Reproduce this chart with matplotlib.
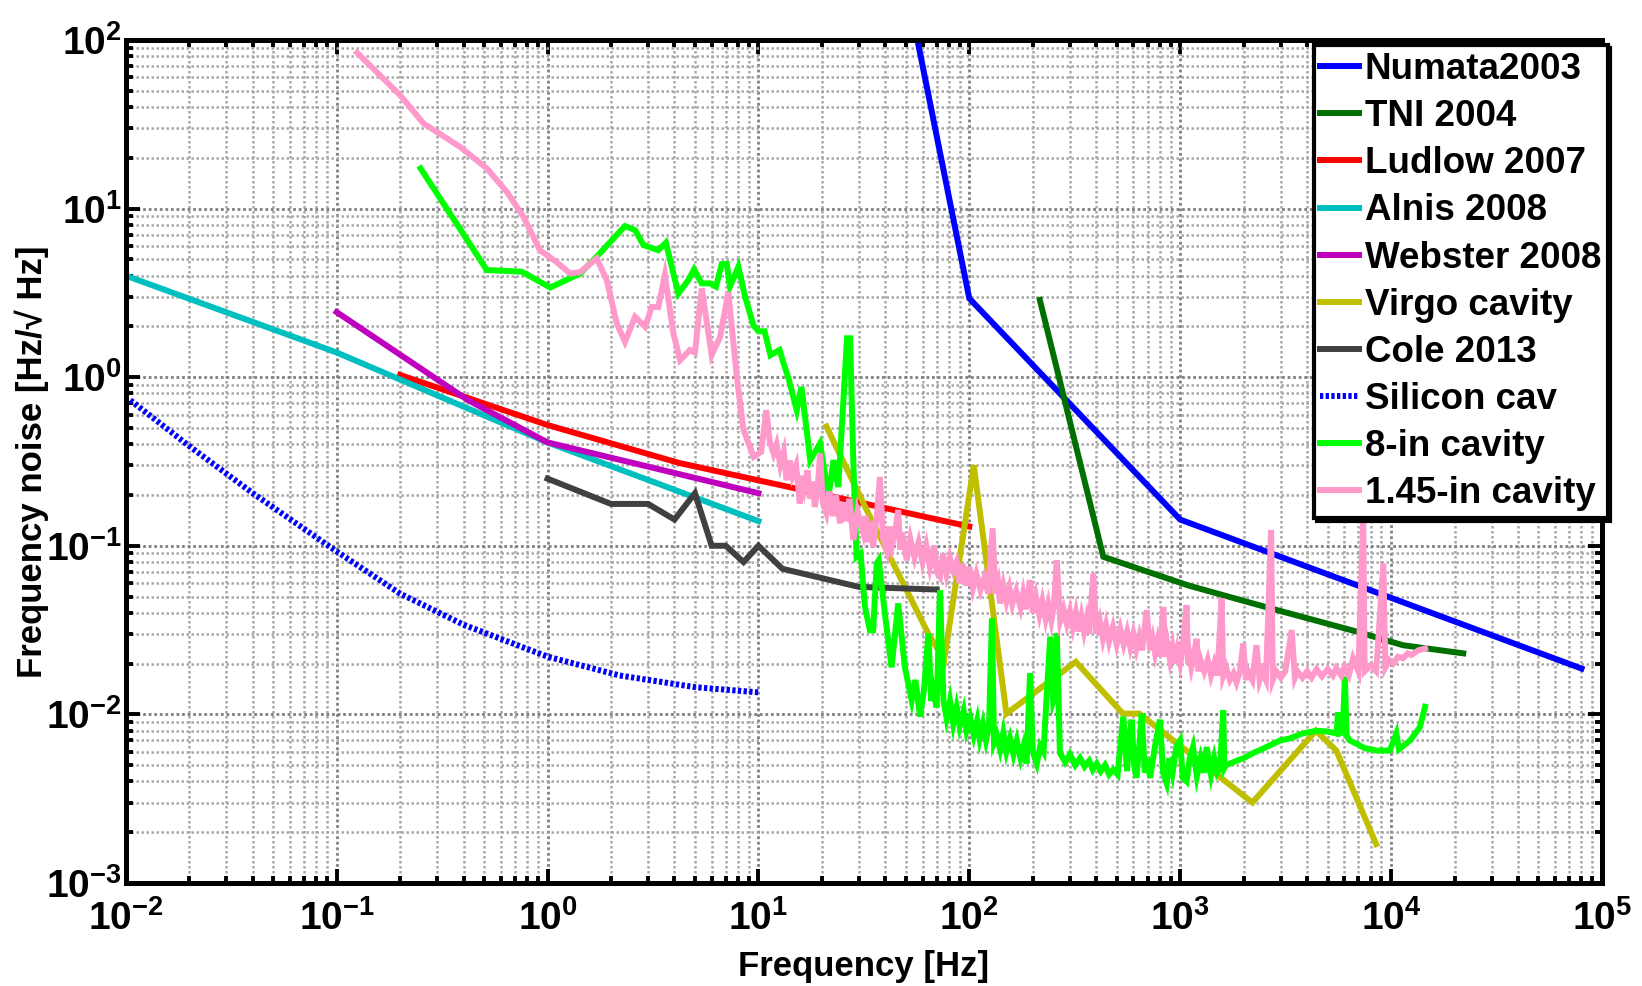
import matplotlib
matplotlib.use("Agg")
import matplotlib.pyplot as plt
from matplotlib.ticker import LogLocator, NullFormatter

plt.rcParams['font.family'] = ['Liberation Sans', 'DejaVu Sans']
plt.rcParams['font.weight'] = 'bold'

# ---- data (Hz, Hz/sqrt(Hz)) ----
numata_f = [50, 100, 1000, 80000]
numata_n = [220, 2.93, 0.143, 0.0187]

tni_f = [216, 432, 1100, 2600, 6850, 11400, 22000]
tni_n = [2.87, 0.086, 0.058, 0.043, 0.031, 0.0257, 0.023]

ludlow_f = [0.2, 1, 4.2, 100]
ludlow_n = [1.03, 0.52, 0.31, 0.13]

alnis_f = [0.01, 0.1, 1, 10]
alnis_n = [4.0, 1.4, 0.41, 0.14]

webster_f = [0.1, 0.42, 1, 10]
webster_n = [2.43, 0.73, 0.41, 0.205]

virgo_f = [21, 35, 64, 76, 105, 150, 320, 535, 640, 2200, 4400, 5500, 8500]
virgo_n = [0.51, 0.136, 0.030, 0.021, 0.30, 0.0101, 0.0205, 0.0101, 0.0101,
           0.0030, 0.0080, 0.0061, 0.0017]

cole_f = [1, 2, 3, 4, 5, 6, 7, 8.5, 10, 13, 30, 70]
cole_n = [0.25, 0.177, 0.177, 0.143, 0.205, 0.10, 0.10, 0.08, 0.10, 0.073, 0.057, 0.055]

silicon_f = [0.0105, 0.02, 0.04, 0.1, 0.2, 0.4, 1, 2.2, 5, 10]
silicon_n = [0.73, 0.39, 0.205, 0.0925, 0.052, 0.034, 0.022, 0.017, 0.0145, 0.0135]

# measured spectra, (frequency, noise) pairs
cav8_pts = [
    (0.25, 17.3), (0.515, 4.32), (0.755, 4.22), (1.03, 3.4), (1.43, 4.12), (1.71, 5.18),
    (2.33, 7.87), (2.6, 7.45), (2.85, 6.07), (3.35, 5.66), (3.64, 6.27), (4.17, 3.13),
    (4.65, 3.76), (4.95, 4.35), (5.38, 3.6), (5.9, 3.6), (6.29, 3.44), (6.7, 4.68),
    (7.08, 4.7), (7.33, 3.44), (8.03, 4.51), (8.65, 2.99), (9.47, 2.03), (10.0, 1.87),
    (10.7, 1.87), (11.4, 1.35), (12.6, 1.45), (13.1, 1.23), (13.9, 0.98), (15.2, 0.637),
    (16.0, 0.875), (17.6, 0.322), (19.6, 0.405), (21.5, 0.195), (22.7, 0.322), (23.9, 0.223),
    (25.3, 0.73), (26.3, 1.7), (27.2, 1.7), (28.2, 0.307), (29.2, 0.086), (30.5, 0.09),
    (32, 0.0434), (33.8, 0.0315), (35, 0.0315), (36.4, 0.0785), (37.2, 0.082), (39.8, 0.0396),
    (42.8, 0.019), (46, 0.0455), (49.5, 0.019), (53.3, 0.0121), (55.5, 0.016), (58.4, 0.0097),
    (61, 0.014), (64, 0.0302), (66, 0.012), (67.5, 0.0139), (70, 0.011), (72.6, 0.0546),
    (75.4, 0.0121), (78, 0.0095), (81, 0.012), (84, 0.0088), (87, 0.011), (90, 0.0085),
    (94, 0.0105), (97, 0.008), (101, 0.0095), (105, 0.0075), (109, 0.0092), (112, 0.0072),
    (116, 0.0088), (120, 0.007), (124, 0.0085), (128, 0.037), (131, 0.0068), (135, 0.0075),
    (140, 0.0062), (145, 0.0078), (150, 0.006), (156, 0.0072), (162, 0.0058), (168, 0.007),
    (175, 0.0055), (181, 0.0065), (187, 0.0051), (194, 0.0175), (200, 0.006), (209, 0.0051),
    (217, 0.0065), (225, 0.006), (232, 0.012), (242, 0.0289), (250, 0.012), (255, 0.013),
    (260, 0.0302), (269, 0.0059), (285, 0.0052), (300, 0.0058), (318, 0.005), (335, 0.0055),
    (352, 0.0049), (370, 0.0053), (385, 0.0047), (402, 0.0051), (420, 0.0046), (440, 0.005),
    (460, 0.0044), (482, 0.0047), (505, 0.0044), (537, 0.0097), (560, 0.0046), (575, 0.0075),
    (589, 0.0093), (605, 0.005), (620, 0.0042), (640, 0.0065), (657, 0.0101), (680, 0.0045),
    (700, 0.0055), (720, 0.0042), (760, 0.0065), (802, 0.0093), (830, 0.0045), (863, 0.0039),
    (890, 0.0055), (920, 0.0045), (960, 0.0065), (998, 0.007), (1030, 0.0042), (1073, 0.004),
    (1110, 0.0055), (1150, 0.0064), (1200, 0.0043), (1250, 0.0055), (1300, 0.0045), (1335, 0.0064),
    (1400, 0.0044), (1450, 0.0055), (1500, 0.0045), (1545, 0.0048), (1600, 0.0106), (1620, 0.0048),
    (1650, 0.005), (1720, 0.0051), (1850, 0.0053), (2000, 0.0055), (2220, 0.0059), (2500, 0.0063),
    (2970, 0.007), (3310, 0.0072), (3800, 0.0077), (4430, 0.008), (5000, 0.0079), (5520, 0.0077),
    (5600, 0.0103), (5700, 0.0077), (5900, 0.0078), (6040, 0.0167), (6150, 0.0075), (6370, 0.007),
    (7000, 0.0066), (7500, 0.0063), (8530, 0.0061), (9860, 0.0061), (10600, 0.0077), (10900, 0.0062),
    (12300, 0.007), (13700, 0.0084), (14500, 0.0111),
]

cav145_pts = [
    (0.125, 84), (0.2, 47), (0.258, 32), (0.385, 23.2), (0.515, 17.3), (0.64, 12.6),
    (0.77, 8.9), (0.92, 5.66), (1.1, 4.83), (1.28, 4.12), (1.43, 4.2), (1.71, 5.06),
    (1.91, 3.76), (2.13, 2.08), (2.33, 1.62), (2.6, 2.28), (2.9, 1.99), (3.12, 2.61),
    (3.35, 2.6), (3.6, 4.03), (3.95, 1.82), (4.25, 1.26), (4.74, 1.45), (5.0, 1.4),
    (5.39, 3.36), (6.0, 1.35), (6.58, 1.73), (7.2, 3.2), (7.9, 1.0), (8.5, 0.485),
    (9.5, 0.337), (10.3, 0.36), (10.9, 0.637), (11.3, 0.42), (11.8, 0.352), (12.2, 0.40),
    (12.7, 0.30), (13.2, 0.36), (13.6, 0.245), (14.1, 0.32), (14.5, 0.26), (15.1, 0.30),
    (15.7, 0.178), (16.1, 0.26), (16.5, 0.22), (17.1, 0.28), (17.6, 0.19), (18.1, 0.24),
    (18.5, 0.17), (19.1, 0.22), (19.6, 0.352), (20.2, 0.18), (21, 0.156), (21.7, 0.21),
    (22.5, 0.15), (23.3, 0.20), (24.4, 0.136), (25.2, 0.18), (26, 0.14), (27, 0.19),
    (28.2, 0.108), (29.5, 0.16), (31.4, 0.12), (32.2, 0.15), (33, 0.105), (34, 0.14),
    (35, 0.0986), (36.4, 0.15), (37.7, 0.256), (39, 0.11), (40.6, 0.094), (41.8, 0.13),
    (43, 0.1), (44.5, 0.12), (46, 0.163), (47, 0.095), (48, 0.12), (50.5, 0.082),
    (52.5, 0.11), (55, 0.085), (57.5, 0.105), (60, 0.08), (62.5, 0.1), (65, 0.075),
    (68, 0.1), (70, 0.07), (72.6, 0.0655), (75, 0.09), (78, 0.068), (81, 0.085),
    (84, 0.0717), (87, 0.08), (90, 0.06), (93, 0.078), (97, 0.058), (100, 0.075),
    (104, 0.056), (108, 0.068), (113, 0.0546), (118, 0.065), (123, 0.052), (129, 0.127),
    (133, 0.052), (137, 0.06), (140, 0.0455), (145, 0.058), (150, 0.047), (155, 0.056),
    (160, 0.045), (167, 0.054), (175, 0.043), (180, 0.052), (185, 0.042), (194, 0.0625),
    (200, 0.04), (207, 0.05), (215, 0.039), (222, 0.047), (230, 0.037), (237, 0.045),
    (245, 0.036), (252, 0.044), (260, 0.082), (270, 0.036), (280, 0.042), (290, 0.0346),
    (300, 0.041), (310, 0.033), (320, 0.04), (330, 0.031), (340, 0.038), (350, 0.031),
    (360, 0.037), (370, 0.03), (387, 0.0686), (400, 0.03), (415, 0.036), (430, 0.028),
    (445, 0.034), (460, 0.027), (480, 0.033), (500, 0.026), (520, 0.032), (540, 0.026),
    (560, 0.031), (580, 0.025), (600, 0.03), (620, 0.0245), (640, 0.029), (660, 0.024),
    (693, 0.0415), (720, 0.024), (740, 0.028), (760, 0.023), (780, 0.027), (800, 0.022),
    (832, 0.0434), (850, 0.022), (870, 0.026), (895, 0.021), (920, 0.025), (945, 0.02),
    (970, 0.024), (1000, 0.02), (1020, 0.023), (1073, 0.0445), (1090, 0.02), (1110, 0.022),
    (1130, 0.019), (1150, 0.021), (1197, 0.028), (1220, 0.018), (1250, 0.021), (1300, 0.018),
    (1350, 0.021), (1400, 0.017), (1450, 0.02), (1500, 0.017), (1573, 0.0487), (1600, 0.017),
    (1650, 0.019), (1720, 0.016), (1790, 0.0175), (1850, 0.0155), (1920, 0.018), (1990, 0.0263),
    (2050, 0.016), (2100, 0.018), (2200, 0.016), (2300, 0.0257), (2380, 0.016), (2450, 0.018),
    (2550, 0.016), (2700, 0.124), (2750, 0.016), (2850, 0.018), (3000, 0.0165), (3150, 0.018),
    (3380, 0.0316), (3500, 0.0165), (3600, 0.018), (3800, 0.0165), (4000, 0.018), (4200, 0.0165),
    (4430, 0.0185), (4700, 0.0168), (5000, 0.0185), (5300, 0.017), (5500, 0.0188), (5800, 0.017),
    (6000, 0.019), (6300, 0.017), (6600, 0.0215), (7000, 0.018), (7380, 0.148), (7500, 0.018),
    (8000, 0.0195), (8500, 0.018), (9190, 0.0785), (9400, 0.019), (9800, 0.021), (10230, 0.02),
    (10800, 0.022), (11400, 0.0215), (12000, 0.023), (12500, 0.0225), (13500, 0.024), (14500, 0.0246),
]

cav8_f, cav8_n = zip(*cav8_pts)
cav145_f, cav145_n = zip(*cav145_pts)

series = [
    ("Numata2003", numata_f, numata_n, "#0000ff", "-"),
    ("TNI 2004", tni_f, tni_n, "#007000", "-"),
    ("Ludlow 2007", ludlow_f, ludlow_n, "#ff0000", "-"),
    ("Alnis 2008", alnis_f, alnis_n, "#00bfbf", "-"),
    ("Webster 2008", webster_f, webster_n, "#bf00bf", "-"),
    ("Virgo cavity", virgo_f, virgo_n, "#bfbf00", "-"),
    ("Cole 2013", cole_f, cole_n, "#404040", "-"),
    ("Silicon cav", silicon_f, silicon_n, "#0000ff", (0, (0.55, 0.4))),
    ("8-in cavity", cav8_f, cav8_n, "#00ff00", "-"),
    ("1.45-in cavity", cav145_f, cav145_n, "#ff99cc", "-"),
]

fig = plt.figure(figsize=(16.42, 9.86), dpi=100)
ax = fig.add_axes([0.0766, 0.1045, 0.899, 0.855])

for name, f, n, c, ls in series:
    ax.plot(f, n, color=c, linestyle=ls, linewidth=4.3, label=name,
            solid_joinstyle='miter', dash_capstyle='butt')

ax.set_xscale('log')
ax.set_yscale('log')
ax.set_xlim(1e-2, 1e5)
ax.set_ylim(1e-3, 1e2)

for axis in (ax.xaxis, ax.yaxis):
    axis.set_major_locator(LogLocator(base=10, numticks=20))
    axis.set_minor_locator(LogLocator(base=10, subs=range(2, 10), numticks=20))
    axis.set_minor_formatter(NullFormatter())

ax.grid(True, which='major', color='#808080', linestyle=(0, (1, 1)), linewidth=2.0)
ax.grid(True, which='minor', color='#a8a8a8', linestyle=(0, (1, 1)), linewidth=1.8)
ax.set_axisbelow(True)

ax.tick_params(which='both', direction='in', top=True, right=True, width=2.8,
               labelsize=28)
ax.tick_params(which='major', length=10)
ax.tick_params(which='minor', length=5)
ax.tick_params(axis='x', which='major', pad=12)
ax.tick_params(axis='y', which='major', pad=3)
for lab in ax.get_xticklabels() + ax.get_yticklabels():
    lab.set_fontweight('bold')
for sp in ax.spines.values():
    sp.set_linewidth(3.6)

ax.set_xlabel("Frequency [Hz]", fontsize=25, fontweight='bold')
ax.set_ylabel("Frequency noise [Hz/\u221a Hz]", fontsize=25, fontweight='bold')
ax.xaxis.set_label_coords(0.5, -0.08)
ax.yaxis.set_label_coords(-0.052, 0.5)

leg = ax.legend(loc='upper right', bbox_to_anchor=(0.979, 0.954),
                bbox_transform=fig.transFigure, borderaxespad=0,
                fancybox=False, shadow={'color': 'black', 'alpha': 1},
                edgecolor='black', framealpha=1, handlelength=1.05,
                handletextpad=0.15, labelspacing=0.33, borderpad=0.18,
                prop={'size': 26.5, 'weight': 'bold'})
leg.get_frame().set_linewidth(3)

fig.savefig("out.png", dpi=100)
